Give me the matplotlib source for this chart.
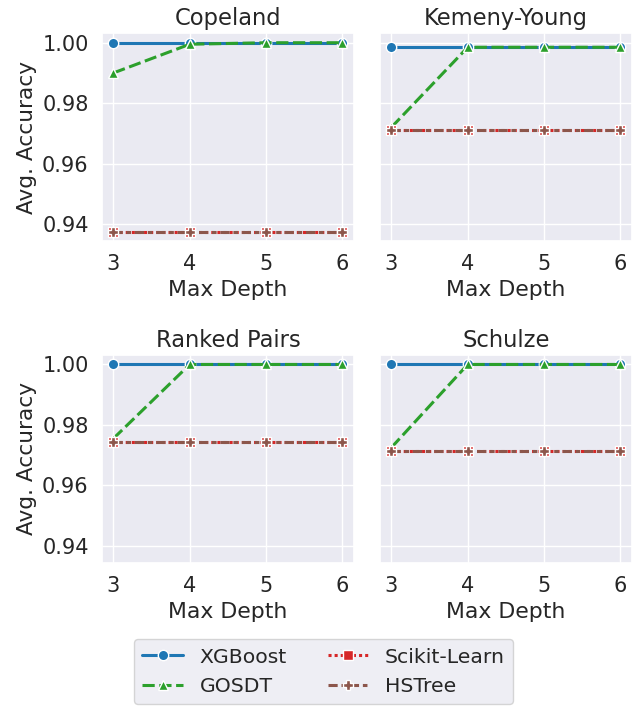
import matplotlib
matplotlib.use("Agg")
import matplotlib.pyplot as plt
import seaborn as sns

sns.set_theme(style="darkgrid")
plt.rcParams['font.family'] = ['DejaVu Sans']

depths = [3, 4, 5, 6]
methods = ["Copeland", "Kemeny-Young", "Ranked Pairs", "Schulze"]
models = ["XGBoost", "GOSDT", "Scikit-Learn", "HSTree"]

# accuracy per method, per model, over depths 3..6
xgboost = {
    "Copeland": [1.0, 1.0, 1.0, 1.0],
    "Kemeny-Young": [0.9985, 0.9985, 0.9985, 0.9985],
    "Ranked Pairs": [1.0, 1.0, 1.0, 1.0],
    "Schulze": [1.0, 1.0, 1.0, 1.0],
}
gosdt = {
    "Copeland": [0.990, 0.9995, 1.0, 1.0],
    "Kemeny-Young": [0.9720, 0.9985, 0.9985, 0.9985],
    "Ranked Pairs": [0.9755, 1.0, 1.0, 1.0],
    "Schulze": [0.9725, 1.0, 1.0, 1.0],
}
sklearn = {
    "Copeland": [0.9375, 0.9375, 0.9375, 0.9375],
    "Kemeny-Young": [0.9710, 0.9710, 0.9710, 0.9710],
    "Ranked Pairs": [0.9745, 0.9745, 0.9745, 0.9745],
    "Schulze": [0.9715, 0.9715, 0.9715, 0.9715],
}
hstree = {
    "Copeland": [0.9375, 0.9375, 0.9375, 0.9375],
    "Kemeny-Young": [0.9710, 0.9710, 0.9710, 0.9710],
    "Ranked Pairs": [0.9745, 0.9745, 0.9745, 0.9745],
    "Schulze": [0.9715, 0.9715, 0.9715, 0.9715],
}
series = [xgboost, gosdt, sklearn, hstree]

colors = ["#1f77b4", "#2ca02c", "#d62728", "#8c564b"]
markers = ["o", "^", "s", "P"]
dashes = [(), (4, 1.5), (1, 1), (3, 1.25, 1.5, 1.25)]

fig, axes = plt.subplots(2, 2, figsize=(6.37, 7.08), dpi=100, sharey=True)
fig.subplots_adjust(left=0.160, right=0.992, top=0.953, bottom=0.205,
                    wspace=0.103, hspace=0.548)

handles = []
for ax, method in zip(axes.flat, methods):
    for data, name, c, m, d in zip(series, models, colors, markers, dashes):
        line, = ax.plot(depths, data[method], color=c, marker=m, lw=2.2,
                        markersize=7.5, markeredgecolor="white",
                        markeredgewidth=1, label=name)
        if d:
            line.set_dashes(d)  # scaled by linewidth
        if method == methods[0]:
            handles.append(line)
    ax.set_title(method, fontsize=16.3)
    ax.set_xlabel("Max Depth", fontsize=15.8)
    ax.set_xticks(depths)
    ax.set_yticks([0.94, 0.96, 0.98, 1.00])
    ax.tick_params(labelsize=15)

for ax in axes[:, 0]:
    ax.set_ylabel("Avg. Accuracy", fontsize=15.6)
for ax in axes[:, 1]:
    ax.set_ylabel("")

fig.legend(handles, models, loc="lower center", ncol=2,
           bbox_to_anchor=(0.508, 0.0), fontsize=14.7, frameon=True,
           columnspacing=2.0, borderaxespad=0.2)

fig.savefig("out.png", dpi=100)
